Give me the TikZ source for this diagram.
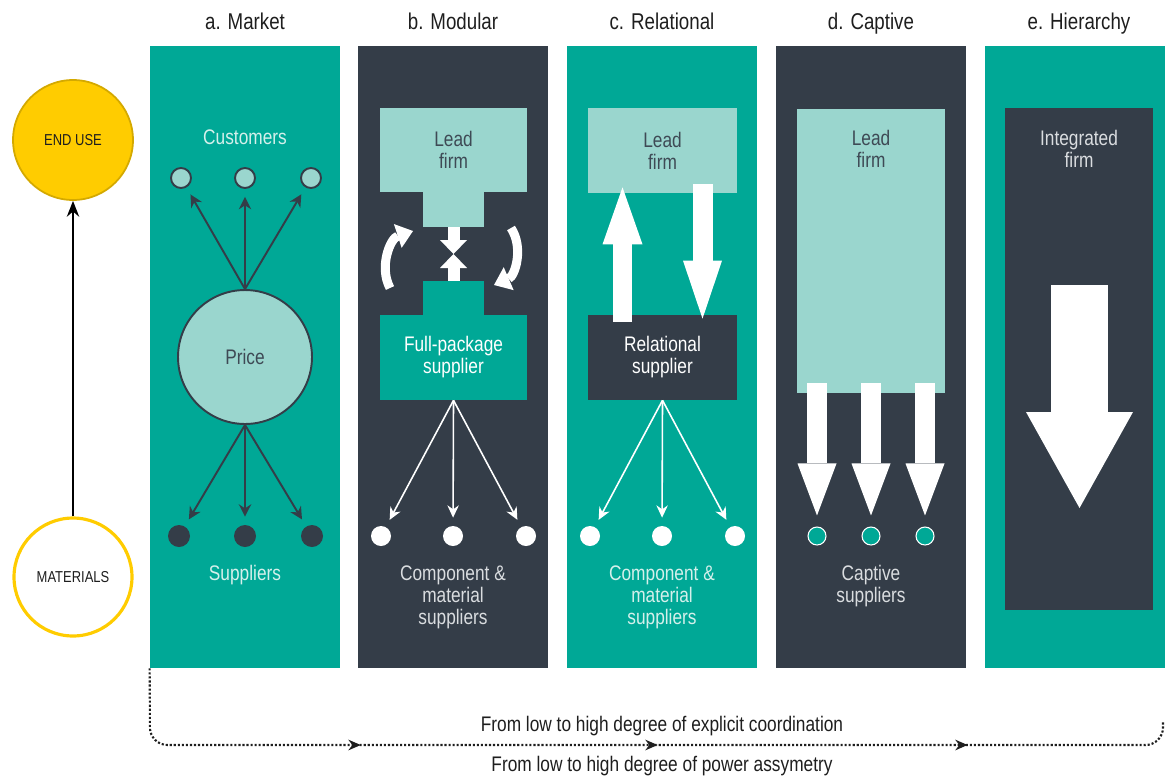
\documentclass[tikz,border=0pt]{standalone}
\usepackage{fontspec}
\setmainfont{Liberation Sans}[FakeStretch=0.82]
\usetikzlibrary{arrows.meta,positioning,decorations.markings}

\definecolor{gvcteal}{HTML}{00A896}
\definecolor{gvcdark}{HTML}{343D48}
\definecolor{gvclight}{HTML}{9AD6CE}
\definecolor{gvcyellow}{HTML}{FFCC00}
\definecolor{gvcgold}{HTML}{D4A900}
\definecolor{gvcpale}{HTML}{D5F0EB}
\definecolor{gvcgrey}{HTML}{DADDE0}
\definecolor{gvcink}{HTML}{1E1E1E}
\definecolor{gvcslate}{HTML}{3E4A55}

\begin{document}
\begin{tikzpicture}[x=0.02cm,y=-0.02cm,
  panel/.style={minimum width=3.8cm,minimum height=12.44cm,inner sep=0pt},
  coltitle/.style={font=\fontsize{13}{14}\selectfont,text=gvcink,anchor=base},
  bodytxt/.style={font=\fontsize{12}{12.5}\selectfont,align=center},
  firmbox/.style={fill=gvclight,inner sep=0pt,minimum width=2.96cm,minimum height=1.7cm,bodytxt,text=gvcslate},
  dot/.style={circle,inner sep=0pt,minimum size=0.44cm},
  mktarrow/.style={gvcdark,line width=1.1pt,shorten >=0.16cm,-{Stealth[length=7pt,width=7pt]}},
  wharrow/.style={white,line width=0.9pt,shorten >=0.16cm,-{Stealth[length=7pt,width=6.5pt]}},
  blockarrow/.style n args={3}{white,line width=#1,-{Triangle[width=#2,length=#3,line width=0pt]}},
  curvarrow/.style={white,line width=0.18cm,-{Triangle[width=0.5cm,length=0.32cm,line width=0pt]}}]

  \clip (0,0) rectangle (1165,778);

  % value chain ends
  \node[circle,fill=gvcyellow,draw=gvcgold,line width=1pt,minimum size=2.4cm,font=\fontsize{9}{9}\selectfont,text=gvcink]
    (enduse) at (73,140) {END USE};
  \node[circle,fill=white,draw=gvcyellow,line width=1.8pt,minimum size=2.36cm,font=\fontsize{9}{9}\selectfont,text=gvcink]
    (materials) at (73,577) {MATERIALS};
  \draw[line width=1.2pt,-{Stealth[length=9pt,width=7pt]}] (materials) -- (enduse);

  % panels
  \node[panel,fill=gvcteal] (pmarket) at (245,357) {};
  \node[panel,fill=gvcdark] (pmodular) at (453,357) {};
  \node[panel,fill=gvcteal] (prelational) at (662,357) {};
  \node[panel,fill=gvcdark] (pcaptive) at (871,357) {};
  \node[panel,fill=gvcteal] (phierarchy) at (1080,357) {};

  \node[coltitle] (tmarket) at (245,29) {a. Market};
  \node[coltitle] (tmodular) at (453,29) {b. Modular};
  \node[coltitle] (trelational) at (662,29) {c. Relational};
  \node[coltitle] (tcaptive) at (871,29) {d. Captive};
  \node[coltitle] (thierarchy) at (1079,29) {e. Hierarchy};

  % a. market
  \node[bodytxt,text=gvcpale] (custtxt) at (245,137) {Customers};
  \node[dot,fill=gvclight,draw=gvcdark,line width=1.1pt,minimum size=0.4cm] (cust1) at (181,178) {};
  \node[dot,fill=gvclight,draw=gvcdark,line width=1.1pt,minimum size=0.4cm] (cust2) at (245,178) {};
  \node[dot,fill=gvclight,draw=gvcdark,line width=1.1pt,minimum size=0.4cm] (cust3) at (311,178) {};
  \node[circle,fill=gvclight,draw=gvcdark,line width=1.1pt,minimum size=2.68cm,bodytxt,text=gvcslate]
    (price) at (245,357) {Price};
  \draw[mktarrow] (price.north) -- (cust1);
  \draw[mktarrow] (price.north) -- (cust2);
  \draw[mktarrow] (price.north) -- (cust3);
  \node[dot,fill=gvcdark] (sup1) at (179,536) {};
  \node[dot,fill=gvcdark] (sup2) at (245,536) {};
  \node[dot,fill=gvcdark] (sup3) at (312,536) {};
  \draw[mktarrow] (price.south) -- (sup1);
  \draw[mktarrow] (price.south) -- (sup2);
  \draw[mktarrow] (price.south) -- (sup3);
  \node[bodytxt,text=gvcpale] (suptxt) at (245,575) {Suppliers};

  % b. modular
  \node[firmbox,minimum width=2.94cm,minimum height=1.68cm] (modlead) at (453.5,150) {Lead\\firm};
  \node[fill=gvclight,inner sep=0pt,minimum width=1.22cm,minimum height=0.7cm,below=-0.5pt of modlead] (modleadstem) {};
  \node[fill=gvcteal,inner sep=0pt,minimum width=2.94cm,minimum height=1.7cm,bodytxt,text=white]
    (modsup) at (453.5,357.5) {Full-package\\supplier};
  \node[fill=gvcteal,inner sep=0pt,minimum width=1.22cm,minimum height=0.68cm,above=-0.5pt of modsup] (modsupstem) {};
  \coordinate (modmeet) at (453.5,254);
  \draw[blockarrow={0.24cm}{0.54cm}{0.28cm}] (modleadstem.south) -- (modmeet);
  \draw[blockarrow={0.24cm}{0.54cm}{0.28cm}] (modsupstem.north) -- (modmeet);
  \coordinate (modl0) at (390,288);
  \coordinate (modl1) at (413,231);
  \coordinate (modr0) at (511,228);
  \coordinate (modr1) at (494,285);
  \draw[curvarrow] (modl0) to[bend left=50] (modl1);
  \draw[curvarrow] (modr0) to[bend left=50] (modr1);
  \node[dot,fill=white,minimum size=0.4cm] (modc1) at (381,536) {};
  \node[dot,fill=white,minimum size=0.4cm] (modc2) at (453,536) {};
  \node[dot,fill=white,minimum size=0.4cm] (modc3) at (526,536) {};
  \draw[wharrow] (modsup.south) -- (modc1);
  \draw[wharrow] (modsup.south) -- (modc2);
  \draw[wharrow] (modsup.south) -- (modc3);
  \node[bodytxt,text=gvcgrey] (modctxt) at (453,597) {Component \&\\material\\suppliers};

  % c. relational
  \node[firmbox,minimum width=2.98cm] (rellead) at (662.5,150.5) {Lead\\firm};
  \node[fill=gvcdark,inner sep=0pt,minimum width=2.98cm,minimum height=1.7cm,bodytxt,text=white]
    (relsup) at (662.5,357.5) {Relational\\supplier};
  \draw[blockarrow={0.38cm}{0.8cm}{1.14cm}] ([shift={(-40,7)}]relsup.north) -- ([shift={(-40,-6)}]rellead.south);
  \draw[blockarrow={0.4cm}{0.78cm}{1.16cm}] ([shift={(40,-9)}]rellead.south) -- ([shift={(40,4)}]relsup.north);
  \node[dot,fill=white,minimum size=0.4cm] (relc1) at (590,536) {};
  \node[dot,fill=white,minimum size=0.4cm] (relc2) at (662,536) {};
  \node[dot,fill=white,minimum size=0.4cm] (relc3) at (735,536) {};
  \draw[wharrow] (relsup.south) -- (relc1);
  \draw[wharrow] (relsup.south) -- (relc2);
  \draw[wharrow] (relsup.south) -- (relc3);
  \node[bodytxt,text=gvcpale] (relctxt) at (662,597) {Component \&\\material\\suppliers};

  % d. captive
  \node[firmbox,minimum height=5.68cm] (caplead) at (871,251) {};
  \node[bodytxt,text=gvcslate] (capleadtxt) at (871,149) {Lead\\firm};
  \node[dot,fill=gvcteal,draw=white,line width=0.6pt,minimum size=0.36cm] (capc1) at (817,536) {};
  \node[dot,fill=gvcteal,draw=white,line width=0.6pt,minimum size=0.36cm] (capc2) at (871,536) {};
  \node[dot,fill=gvcteal,draw=white,line width=0.6pt,minimum size=0.36cm] (capc3) at (925,536) {};
  \draw[blockarrow={0.4cm}{0.78cm}{1.04cm},shorten >=0.22cm] ([shift={(-54,-10)}]caplead.south) -- (capc1.north);
  \draw[blockarrow={0.4cm}{0.78cm}{1.04cm},shorten >=0.22cm] ([shift={(0,-10)}]caplead.south) -- (capc2.north);
  \draw[blockarrow={0.4cm}{0.78cm}{1.04cm},shorten >=0.22cm] ([shift={(54,-10)}]caplead.south) -- (capc3.north);
  \node[bodytxt,text=gvcgrey] (capctxt) at (871,586) {Captive\\suppliers};

  % e. hierarchy
  \node[fill=gvcdark,inner sep=0pt,minimum width=2.96cm,minimum height=10.04cm] (intfirm) at (1079,359) {};
  \node[bodytxt,text=gvcgrey] (intfirmtxt) at (1079,149) {Integrated\\firm};
  \draw[blockarrow={1.14cm}{2.14cm}{1.92cm}] ([shift={(0.5,-74)}]intfirm.center) -- ([shift={(0.5,149)}]intfirm.center);

  % bottom axis
  \draw[gvcink,line width=1.2pt,dash pattern=on 1.2pt off 1.1pt,rounded corners=0.35cm,
    postaction={decorate},
    decoration={markings,
      mark=at position 5.6cm with {\arrow{Stealth[length=7pt,width=6pt]}},
      mark=at position 11.54cm with {\arrow{Stealth[length=7pt,width=6pt]}},
      mark=at position 17.74cm with {\arrow{Stealth[length=7pt,width=6pt]}}}]
    (pmarket.south west) -- (150,745) -- (1163,745) -- (1163,722);
  \node[bodytxt,text=gvcink] (coordtxt) at (662,726) {From low to high degree of explicit coordination};
  \node[bodytxt,text=gvcink] (powertxt) at (662,766) {From low to high degree of power assymetry};
\end{tikzpicture}
\end{document}
